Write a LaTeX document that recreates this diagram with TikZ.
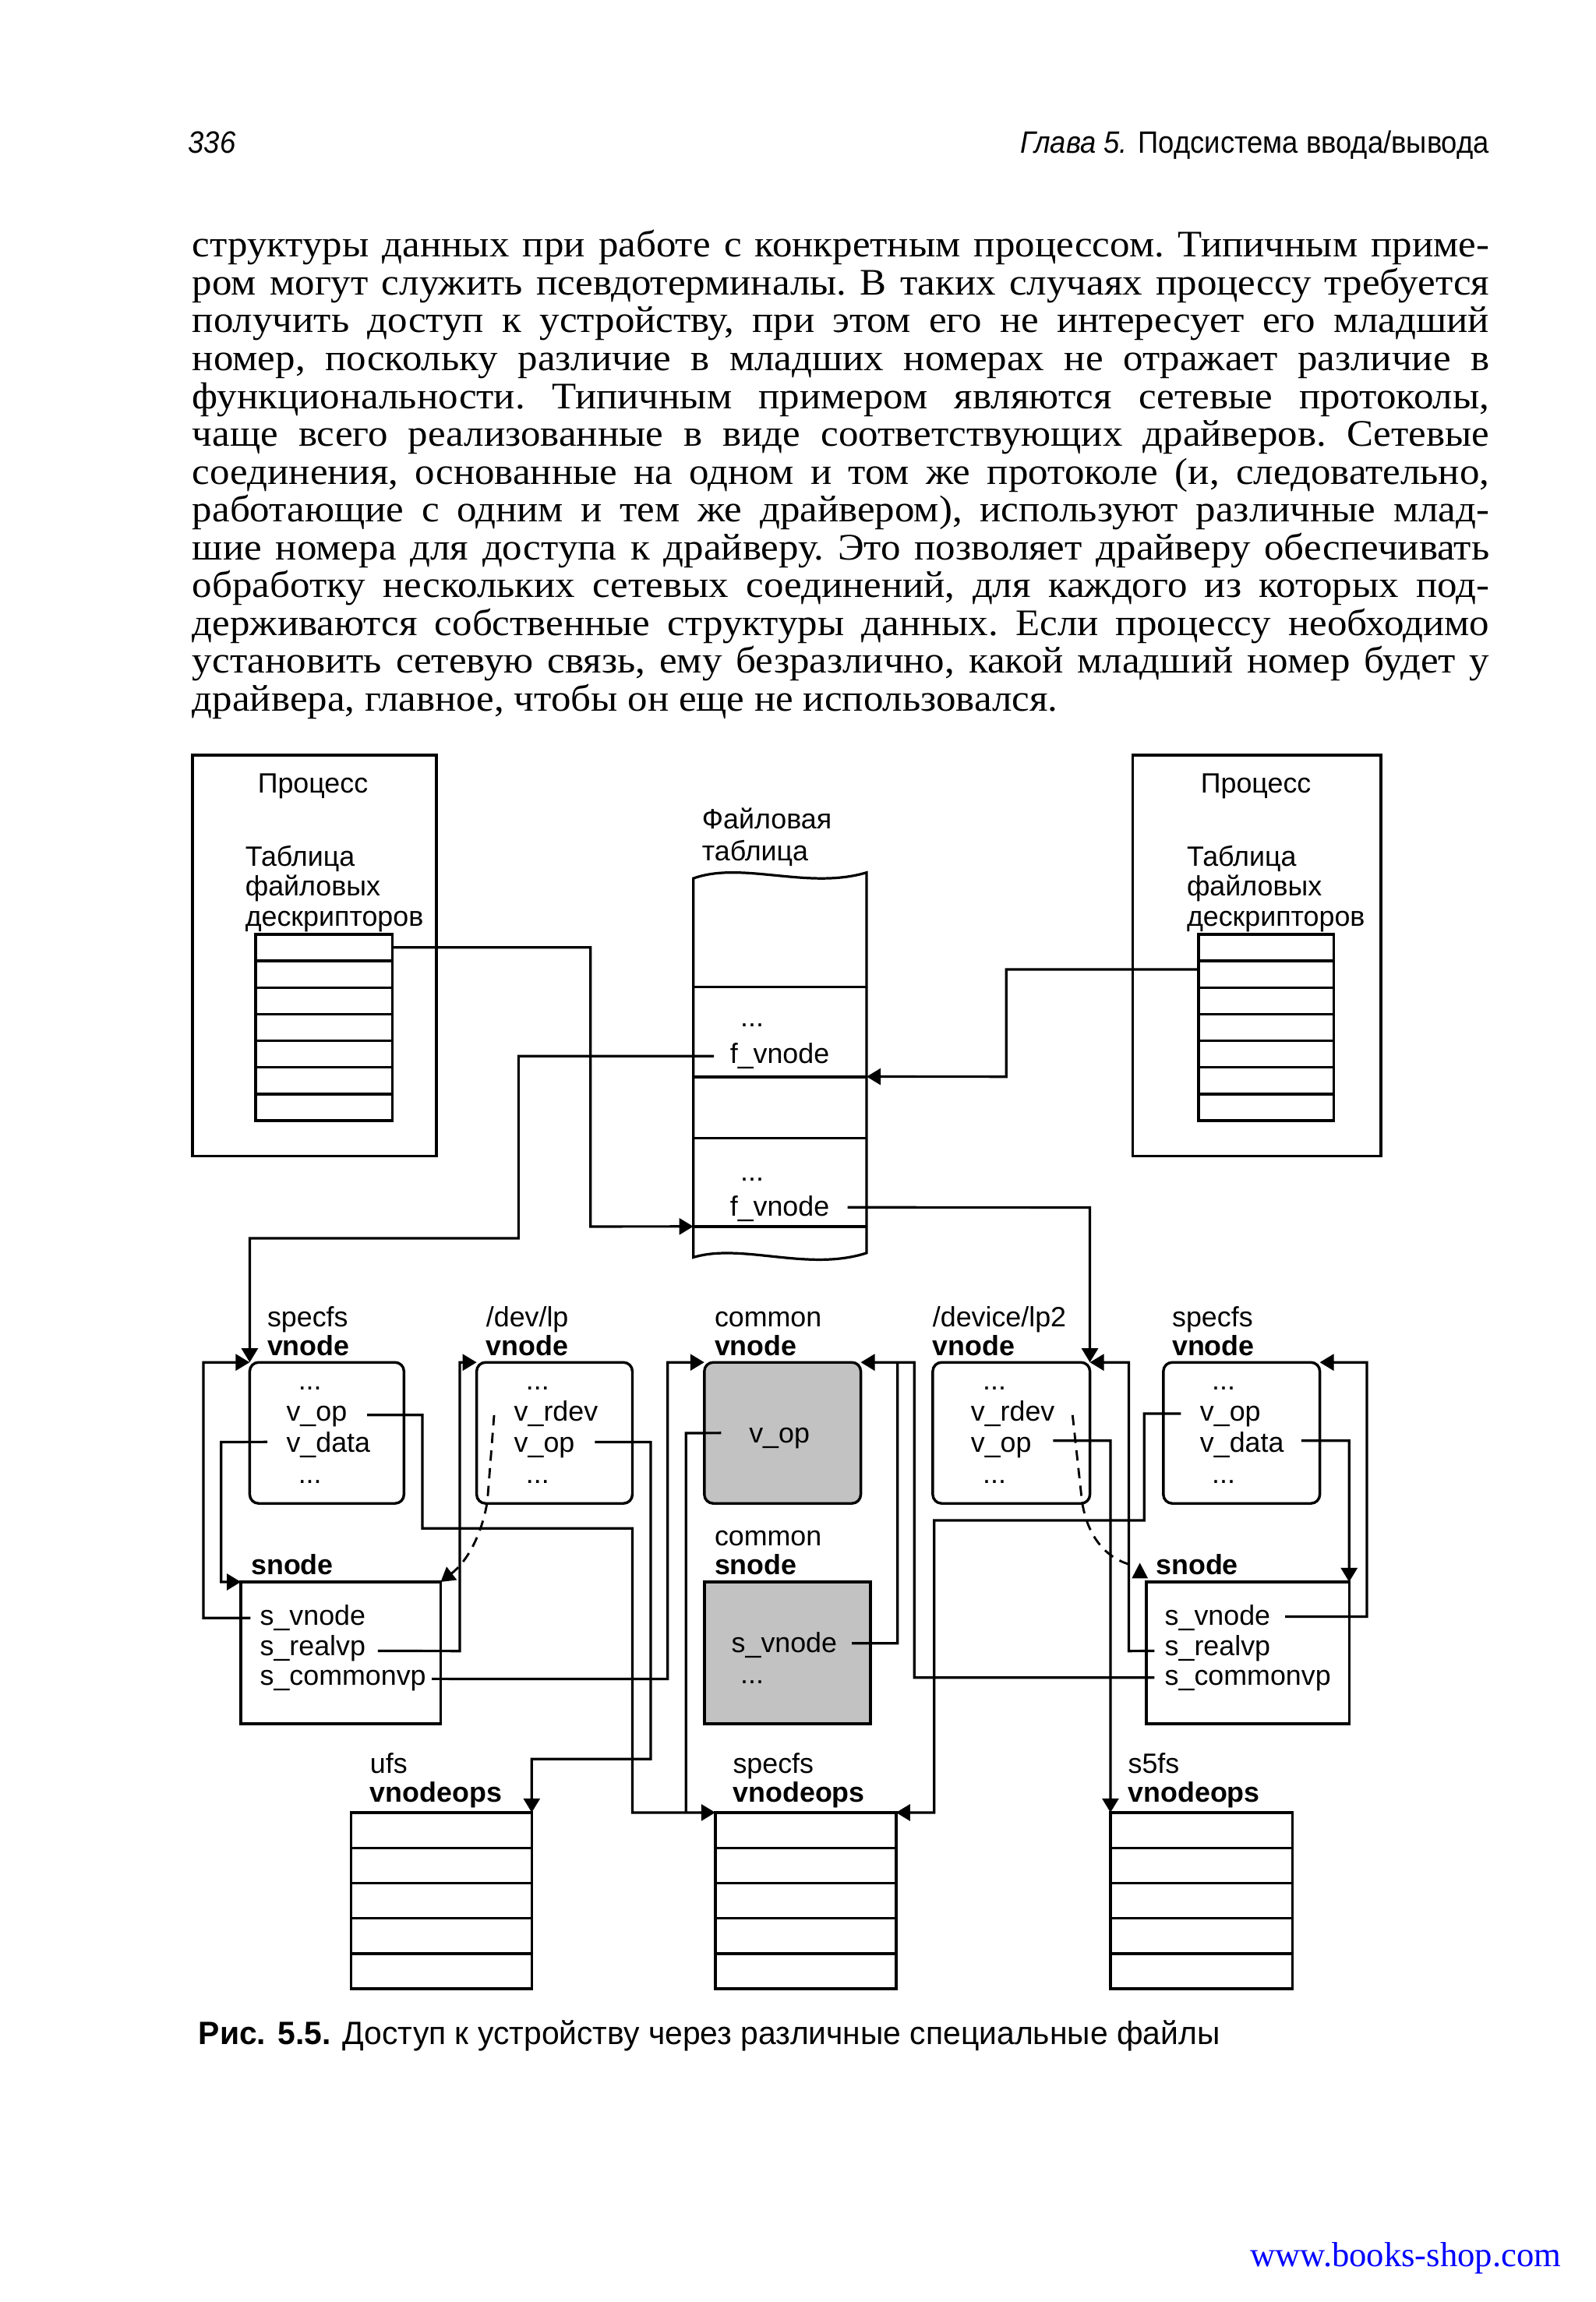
\documentclass[tikz,border=0pt]{standalone}
\usepackage{fontspec}
\usepackage{graphicx}
\setmainfont{Liberation Serif}
\newfontfamily\sansf{Liberation Sans}
\usetikzlibrary{arrows.meta}
\newcommand{\mylb}{\sansf\fontsize{19}{20}\selectfont}
\newcommand{\mybody}{\frenchspacing\fontsize{25.5}{26}\selectfont}
\newcommand{\jline}[1]{\scalebox{1.06}[1]{\makebox[833pt][s]{#1}}}
\newcommand{\nline}[1]{\scalebox{1.06}[1]{#1}}
\begin{document}
\begin{tikzpicture}[x=1pt,y=-1pt,
  ln/.style={line width=1.7pt},
  arr/.style={line width=1.7pt,-{Triangle[length=9.5pt,width=11pt]}},
  dsh/.style={line width=1.5pt,dash pattern=on 7pt off 5pt},
  dsha/.style={dsh,-{Triangle[length=9.5pt,width=11pt]}},
  rbox/.style={draw,line width=1.8pt,rounded corners=6pt,anchor=north west,outer sep=0pt,inner sep=0pt},
  sbox/.style={draw,line width=1.8pt,anchor=north west,outer sep=0pt,inner sep=0pt},
  shd/.style={fill=black!24},
  lb/.style={anchor=base west,inner sep=0pt,outer sep=0pt,font=\mylb},
  lbc/.style={anchor=base,inner sep=0pt,outer sep=0pt,font=\mylb},
  blb/.style={anchor=base west,inner sep=0pt,outer sep=0pt,font=\mylb\bfseries},
  body/.style={anchor=base west,inner sep=0pt,outer sep=0pt,font=\mybody},
]
\useasboundingbox[fill=white] (0,0) rectangle (1080,1557.8);
\begin{scope}[scale=0.994,transform shape]

% ---------- header ----------
\node[anchor=base west,inner sep=0pt] (pgno) at (128,104) {\sansf\itshape\fontsize{21}{22}\selectfont\scalebox{0.92}[1]{336}};
\node[anchor=base east,inner sep=0pt] (hdr) at (1014,104) {\sansf\fontsize{21}{22}\selectfont\scalebox{0.92}[1]{\itshape Глава 5. \upshape Подсистема ввода/вывода}};

% ---------- body text ----------
\node[body] (t1) at (131,175) {\jline{структуры данных при работе с конкретным процессом. Типичным приме-}};
\node[body] (t2) at (131,200.75) {\jline{ром могут служить псевдотерминалы. В таких случаях процессу требуется}};
\node[body] (t3) at (131,226.5) {\jline{получить доступ к устройству, при этом его не интересует его младший}};
\node[body] (t4) at (131,252.25) {\jline{номер, поскольку различие в младших номерах не отражает различие в}};
\node[body] (t5) at (131,278) {\jline{функциональности. Типичным примером являются сетевые протоколы,}};
\node[body] (t6) at (131,303.75) {\jline{чаще всего реализованные в виде соответствующих драйверов. Сетевые}};
\node[body] (t7) at (131,329.5) {\jline{соединения, основанные на одном и том же протоколе (и, следовательно,}};
\node[body] (t8) at (131,355.25) {\jline{работающие с одним и тем же драйвером), используют различные млад-}};
\node[body] (t9) at (131,381) {\jline{шие номера для доступа к драйверу. Это позволяет драйверу обеспечивать}};
\node[body] (t10) at (131,406.75) {\jline{обработку нескольких сетевых соединений, для каждого из которых под-}};
\node[body] (t11) at (131,432.5) {\jline{держиваются собственные структуры данных. Если процессу необходимо}};
\node[body] (t12) at (131,458.25) {\jline{установить сетевую связь, ему безразлично, какой младший номер будет у}};
\node[body] (t13) at (131,484) {\nline{драйвера, главное, чтобы он еще не использовался.}};

% ---------- processes ----------
\node[sbox,minimum width=166pt,minimum height=273pt] (pL) at (131,514) {};
\node[lbc] (pLt) at (213,540) {Процесс};
\node[lb] (pLa) at (167,589.5) {Таблица};
\node[lb] (pLb) at (167,610) {файловых};
\node[lb] (pLc) at (167,630.5) {дескрипторов};
\node[sbox,minimum width=93pt,minimum height=127pt] (fdL) at (174,636) {};
\foreach \i in {1,...,6} \draw[ln] (174,{636+\i*127/7}) -- (267,{636+\i*127/7});

\node[sbox,minimum width=169pt,minimum height=273pt] (pR) at (771,514) {};
\node[lbc] (pRt) at (855,540) {Процесс};
\node[lb] (pRa) at (808,589.5) {Таблица};
\node[lb] (pRb) at (808,610) {файловых};
\node[lb] (pRc) at (808,630.5) {дескрипторов};
\node[sbox,minimum width=92pt,minimum height=127pt] (fdR) at (816,636) {};
\foreach \i in {1,...,6} \draw[ln] (816,{636+\i*127/7}) -- (908,{636+\i*127/7});

% ---------- file table ----------
\node[lb] (ftA) at (478,564) {Файловая};
\node[lb] (ftB) at (478,586) {таблица};
\draw[ln] (472,598) .. controls (505,586) and (550,606) .. (590,594) -- (590,853)
  .. controls (550,866) and (505,846) .. (472,856) -- cycle;
\draw[ln] (472,672) -- (590,672);
\draw[line width=2pt] (472,733) -- (590,733);
\draw[ln] (472,775) -- (590,775);
\draw[ln] (472,835) -- (590,835);
\node[lbc] (fd1) at (512,699) {...};
\node[lb] (fv1) at (497,724) {f\_vnode};
\node[lbc] (fd2) at (512,804) {...};
\node[lb] (fv2) at (497,828) {f\_vnode};

% ---------- row 1: vnodes ----------
\node[lb] (l1a) at (182,903) {specfs};   \node[blb] (l1b) at (182,923) {vnode};
\node[lb] (l2a) at (331,903) {/dev/lp};  \node[blb] (l2b) at (331,923) {vnode};
\node[lb] (l3a) at (486.5,903) {common}; \node[blb] (l3b) at (486.5,923) {vnode};
\node[lb] (l4a) at (635,903) {/device/lp2}; \node[blb] (l4b) at (635,923) {vnode};
\node[lb] (l5a) at (798,903) {specfs};   \node[blb] (l5b) at (798,923) {vnode};

\node[rbox,minimum width=105pt,minimum height=96pt] (bL) at (170,927.5) {};
\node[rbox,minimum width=106pt,minimum height=96pt] (bDev) at (324.5,927.5) {};
\node[rbox,shd,minimum width=106.5pt,minimum height=96pt] (bCv) at (479.5,927.5) {};
\node[rbox,minimum width=107pt,minimum height=96pt] (bLp2) at (635,927.5) {};
\node[rbox,minimum width=106.5pt,minimum height=96pt] (bRs) at (792,927.5) {};

\node[lbc] (bLd1) at (211,946) {...};
\node[lb] (bLop) at (195,967.5) {v\_op};
\node[lb] (bLdt) at (195,988.5) {v\_data};
\node[lbc] (bLd2) at (211,1010) {...};

\node[lbc] (bDd1) at (366,946) {...};
\node[lb] (bDrd) at (350,967.5) {v\_rdev};
\node[lb] (bDop) at (350,988.5) {v\_op};
\node[lbc] (bDd2) at (366,1010) {...};

\node[lb] (bCop) at (510,982.5) {v\_op};

\node[lbc] (bPd1) at (677,946) {...};
\node[lb] (bPrd) at (661,967.5) {v\_rdev};
\node[lb] (bPop) at (661,988.5) {v\_op};
\node[lbc] (bPd2) at (677,1010) {...};

\node[lbc] (bRd1) at (833,946) {...};
\node[lb] (bRop) at (817,967.5) {v\_op};
\node[lb] (bRdt) at (817,988.5) {v\_data};
\node[lbc] (bRd2) at (833,1010) {...};

% ---------- row 2: snodes ----------
\node[blb] (s1l) at (171,1072) {snode};
\node[lb] (s2a) at (486.5,1052.5) {common}; \node[blb] (s2l) at (486.5,1072) {snode};
\node[blb] (s3l) at (787,1072) {snode};

\node[sbox,minimum width=136pt,minimum height=96.5pt] (snL) at (164,1077) {};
\node[sbox,shd,minimum width=113pt,minimum height=96.5pt] (snC) at (479.5,1077) {};
\node[sbox,minimum width=138pt,minimum height=96.5pt] (snR) at (780.5,1077) {};

\node[lb] (snLa) at (177,1106.5) {s\_vnode};
\node[lb] (snLb) at (177,1127) {s\_realvp};
\node[lb] (snLc) at (177,1147.5) {s\_commonvp};
\node[lb] (snCa) at (498,1125) {s\_vnode};
\node[lbc] (snCb) at (512,1146) {...};
\node[lb] (snRa) at (793,1106.5) {s\_vnode};
\node[lb] (snRb) at (793,1127) {s\_realvp};
\node[lb] (snRc) at (793,1147.5) {s\_commonvp};

% ---------- row 3: vnodeops ----------
\node[lb] (o1a) at (252,1207) {ufs};    \node[blb] (o1b) at (252,1227) {vnodeops};
\node[lb] (o2a) at (499,1207) {specfs}; \node[blb] (o2b) at (499,1227) {vnodeops};
\node[lb] (o3a) at (768,1207) {s5fs};   \node[blb] (o3b) at (768,1227) {vnodeops};
\node[sbox,minimum width=123pt,minimum height=120pt] (ufT) at (239,1234) {};
\node[sbox,minimum width=123pt,minimum height=120pt] (sfT) at (487,1234) {};
\node[sbox,minimum width=124pt,minimum height=120pt] (s5T) at (756,1234) {};
\foreach \i in {1,...,4} {
  \draw[ln] (239,{1234+\i*24}) -- (362,{1234+\i*24});
  \draw[ln] (487,{1234+\i*24}) -- (610,{1234+\i*24});
  \draw[ln] (756,{1234+\i*24}) -- (880,{1234+\i*24});
}

% ---------- connector start points ----------
\coordinate (cFdL) at (267,645);
\coordinate (cFdR) at (816,660);
\coordinate (cFv1) at (486,719);
\coordinate (cFv2) at (577,822);
\coordinate (ftIn1) at (590,733);
\coordinate (ftIn2) at (472,835);
\coordinate (cLop) at (250,963.3);
\coordinate (cLdt) at (182,981.7);
\coordinate (cDop) at (405,981.8);
\coordinate (cDrd) at (336.4,963.4);
\coordinate (cCop) at (491,975.6);
\coordinate (cPop) at (717,980.8);
\coordinate (cPrd) at (730.2,963.4);
\coordinate (cPrdE) at (768.7,1065);
\coordinate (cRop) at (804,962.4);
\coordinate (cRdt) at (886,980.8);
\coordinate (cLsv) at (170.5,1101.5);
\coordinate (cLsr) at (257.3,1124);
\coordinate (cLsc) at (294,1143);
\coordinate (cCsv) at (580,1118.8);
\coordinate (cRsv) at (875,1100.6);
\coordinate (cRsr) at (786,1124);
\coordinate (cRsc) at (786,1142.1);

% ---------- connectors ----------
\draw[arr] (cFdL) -- (402,645) -- (402,835) -- (ftIn2);
\draw[arr] (cFdR) -- (685,660) -- (685,733) -- (ftIn1);
\draw[arr] (cFv1) -- (353,719) -- (353,843) -- (170,843) -- (bL.north west);
\draw[arr] (cFv2) -- (742,822) -- (bLp2.north east);

\draw[arr] (cLsv) -- (138.5,1101.5) -- (138.5,927.5) -- (bL.north west);
\draw[arr] (cLdt) -- (150.5,981.7) -- (150.5,1077) -- (snL.north west);
\draw[arr] (cLop) -- (287.5,963.3) -- (287.5,1040.5) -- (430.5,1040.5) -- (430.5,1234) -- (sfT.north west);
\draw[arr] (cDop) -- (443,981.8) -- (443,1197.5) -- (362,1197.5) -- (ufT.north east);
\draw[dsha] (cDrd) -- (331.8,1022) .. controls (328,1045) and (318,1063) .. (snL.north east);
\draw[arr] (cLsr) -- (313,1124) -- (313,927.5) -- (bDev.north west);
\draw[arr] (cLsc) -- (454.5,1143) -- (454.5,927.5) -- (bCv.north west);
\draw[ln] (cCop) -- (467,975.6) -- (467,1234);
\draw[ln] (cCsv) -- (611,1118.8) -- (611,927.5);
\draw[arr] (cRsc) -- (622.5,1142.1) -- (622.5,927.5) -- (bCv.north east);
\draw[arr] (cRop) -- (779,962.4) -- (779,1035) -- (636,1035) -- (636,1234) -- (sfT.north east);
\draw[arr] (cPop) -- (756,980.8) -- (s5T.north west);
\draw[dsh] (cPrd) -- (736.6,1022) .. controls (740,1045) and (752,1060) .. (cPrdE);
\fill (770.5,1074.5) -- (776,1064) -- (781.5,1074.5) -- cycle;
\draw[arr] (cRsr) -- (768.5,1124) -- (768.5,927.5) -- (bLp2.north east);
\draw[arr] (cRsv) -- (930.5,1100.6) -- (930.5,927.5) -- (bRs.north east);
\draw[arr] (cRdt) -- (918.5,980.8) -- (snR.north east);

% ---------- caption & footer ----------
\node[anchor=base west,inner sep=0pt] (cap) at (135,1392) {\sansf\fontsize{22}{24}\selectfont\scalebox{0.985}[1]{\textbf{Рис. 5.5.} Доступ к устройству через различные специальные файлы}};
\node[anchor=base east,inner sep=0pt,text=blue] (url) at (1063,1543) {\fontsize{23.7}{26}\selectfont www.books-shop.com};
\end{scope}
\end{tikzpicture}
\end{document}
